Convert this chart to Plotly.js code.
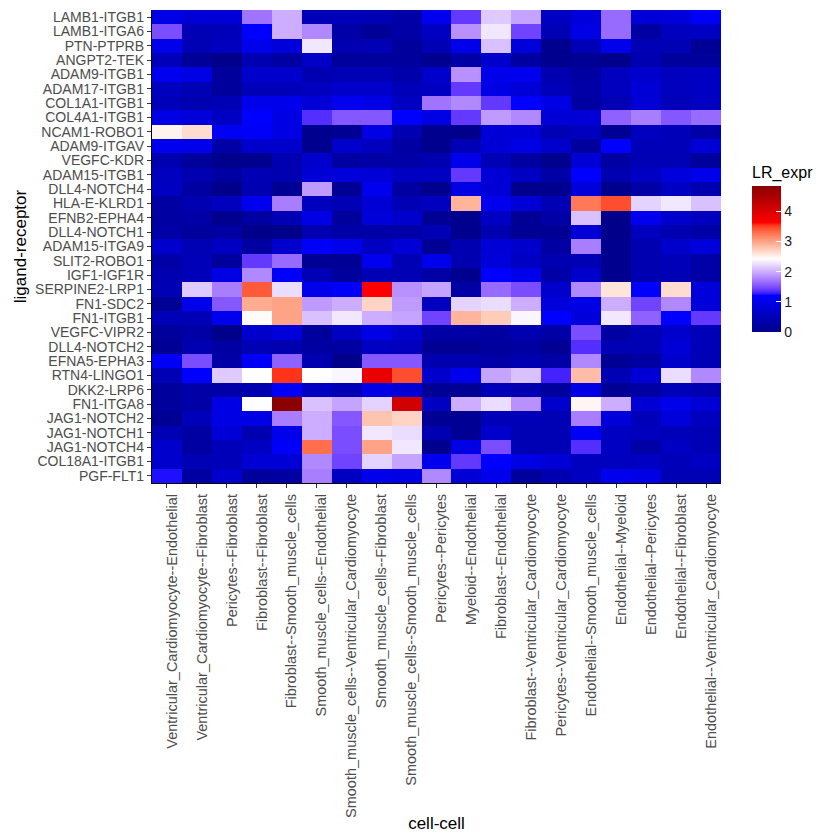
<!DOCTYPE html>
<html>
<head>
<meta charset="utf-8">
<script src="https://cdn.plot.ly/plotly-3.0.1.min.js"></script>
<style>html,body{margin:0;padding:0;background:#fff;}#chart{width:840px;height:840px;}</style>
</head>
<body>
<div id="chart"></div>
<script>
const cellPairs = [
  "Ventricular_Cardiomyocyte--Endothelial",
  "Ventricular_Cardiomyocyte--Fibroblast",
  "Pericytes--Fibroblast",
  "Fibroblast--Fibroblast",
  "Fibroblast--Smooth_muscle_cells",
  "Smooth_muscle_cells--Endothelial",
  "Smooth_muscle_cells--Ventricular_Cardiomyocyte",
  "Smooth_muscle_cells--Fibroblast",
  "Smooth_muscle_cells--Smooth_muscle_cells",
  "Pericytes--Pericytes",
  "Myeloid--Endothelial",
  "Fibroblast--Endothelial",
  "Fibroblast--Ventricular_Cardiomyocyte",
  "Pericytes--Ventricular_Cardiomyocyte",
  "Endothelial--Smooth_muscle_cells",
  "Endothelial--Myeloid",
  "Endothelial--Pericytes",
  "Endothelial--Fibroblast",
  "Endothelial--Ventricular_Cardiomyocyte"
];

const lrPairs = [
  "LAMB1-ITGB1","LAMB1-ITGA6","PTN-PTPRB","ANGPT2-TEK","ADAM9-ITGB1","ADAM17-ITGB1",
  "COL1A1-ITGB1","COL4A1-ITGB1","NCAM1-ROBO1","ADAM9-ITGAV","VEGFC-KDR","ADAM15-ITGB1",
  "DLL4-NOTCH4","HLA-E-KLRD1","EFNB2-EPHA4","DLL4-NOTCH1","ADAM15-ITGA9","SLIT2-ROBO1",
  "IGF1-IGF1R","SERPINE2-LRP1","FN1-SDC2","FN1-ITGB1","VEGFC-VIPR2","DLL4-NOTCH2",
  "EFNA5-EPHA3","RTN4-LINGO1","DKK2-LRP6","FN1-ITGA8","JAG1-NOTCH2","JAG1-NOTCH1",
  "JAG1-NOTCH4","COL18A1-ITGB1","PGF-FLT1"
];

// LR_expr values, one row per ligand-receptor pair (top to bottom), one column per cell pair
const lrExpr = [
  [0.95,0.8,0.8,1.7,2.0,0.5,0.5,0.45,0.3,1.05, 1.4,2.15,1.95,0.6,0.85,1.65,0.8,0.85,1.1],
  [1.5,0.45,0.5,1.2,2.0,1.8,0.3,0.15,0.3,0.6, 1.85,2.3,1.45,0.45,0.95,1.65,0.25,0.55,0.6],
  [1.0,0.45,0.55,1.0,0.85,2.3,0.4,0.45,0.2,0.45, 1.0,2.1,0.85,0.05,0.5,1.0,0.45,0.45,0.1],
  [0.5,0.15,0.0,0.4,0.25,0.65,0.2,0.2,0.2,0.05, 0.3,0.7,0.25,0.05,0.1,0.0,0.4,0.2,0.2],
  [1.05,0.95,0.2,0.7,0.7,0.4,0.45,0.45,0.35,0.7, 1.85,1.0,1.05,0.4,0.25,0.55,0.7,0.55,0.6],
  [0.55,0.45,0.2,0.5,0.5,0.55,0.7,0.7,0.5,0.6, 1.4,0.95,0.8,0.5,0.3,0.55,0.8,0.55,0.6],
  [0.5,0.4,0.45,1.0,1.0,0.8,1.05,0.95,0.6,1.7, 1.8,1.4,1.2,0.95,0.25,0.45,0.8,0.5,0.6],
  [0.95,0.85,0.6,1.2,0.95,1.35,1.55,1.55,1.2,0.95, 1.4,1.9,1.8,0.8,0.8,1.6,1.75,1.55,1.65],
  [2.5,2.65,1.1,1.15,0.95,0.05,0.1,0.95,0.4,0.05, 0.0,0.8,0.8,0.45,0.55,0.1,0.55,0.5,0.3],
  [1.05,1.0,0.3,0.7,0.7,0.05,0.7,0.55,0.25,0.05, 0.45,0.8,0.95,0.7,0.2,1.2,0.5,0.5,0.8],
  [0.4,0.2,0.05,0.05,0.4,0.7,0.25,0.3,0.3,0.4, 1.0,0.45,0.25,0.05,0.8,0.25,0.45,0.45,0.2],
  [0.55,0.4,0.25,0.45,0.4,0.8,0.85,0.8,0.6,0.6, 1.4,0.8,0.6,0.3,1.2,0.4,0.6,0.85,1.0],
  [0.6,0.25,0.0,0.4,0.1,1.9,0.1,1.05,0.25,0.05, 0.95,0.8,0.05,0.05,0.85,0.05,0.3,0.6,0.4],
  [0.25,0.4,0.55,1.05,1.75,0.55,0.45,0.8,0.45,0.55, 2.9,1.05,0.8,0.45,3.25,3.45,2.2,2.3,2.1],
  [0.25,0.3,0.05,0.25,0.45,0.95,0.2,0.85,0.7,0.1, 0.05,0.6,0.1,0.3,2.1,0.0,1.05,0.7,0.55],
  [0.3,0.2,0.25,0.0,0.0,0.4,0.3,0.3,0.3,0.45, 0.05,0.4,0.1,0.1,0.8,0.0,0.55,0.4,0.3],
  [0.7,0.45,0.6,0.25,0.7,1.15,1.0,0.6,0.8,0.1, 0.4,0.8,0.7,0.25,1.75,0.05,0.4,0.7,0.85],
  [0.3,0.5,0.2,1.4,1.65,0.1,0.1,1.05,0.45,1.0, 0.4,0.85,0.6,0.4,0.45,0.05,0.4,0.5,0.3],
  [0.4,0.5,0.95,1.8,1.15,0.45,0.2,0.45,0.45,0.3, 0.05,1.2,1.0,0.3,0.7,0.05,0.4,0.45,0.3],
  [0.45,2.15,1.75,3.4,2.25,1.0,1.15,3.65,1.85,1.95, 0.3,1.65,1.5,0.7,1.8,2.6,1.2,2.65,0.85],
  [0.1,1.0,1.55,2.95,3.0,1.9,2.0,2.7,1.9,0.55, 2.2,2.25,2.0,0.85,0.95,2.0,1.45,1.8,0.85],
  [0.5,0.45,1.05,2.45,3.0,2.1,2.3,2.0,1.95,1.45, 2.9,2.75,2.38,1.2,0.85,2.3,1.6,1.2,1.4],
  [0.2,0.3,0.0,0.7,0.85,0.2,0.6,0.95,0.7,0.3, 0.3,0.25,0.4,0.3,1.5,0.25,0.45,0.7,0.5],
  [0.1,0.4,0.25,0.45,0.4,0.25,0.25,0.6,0.55,0.1, 0.1,0.2,0.25,0.1,1.35,0.45,0.45,0.8,0.5],
  [1.1,1.5,0.3,1.15,1.6,0.4,0.0,1.55,1.55,0.4, 0.4,0.3,0.4,0.3,1.8,0.1,0.25,0.7,0.45],
  [0.45,1.2,2.15,2.43,3.55,2.43,2.38,3.85,3.45,0.7, 1.05,1.95,2.1,1.3,2.85,0.45,0.8,2.25,1.8],
  [0.2,0.3,0.3,0.4,1.15,0.6,0.45,0.95,0.8,0.1, 0.1,0.5,0.4,0.2,0.95,0.1,0.25,0.5,0.4],
  [0.2,0.3,0.95,2.43,4.85,2.1,1.95,2.2,4.1,0.6, 2.0,2.25,1.85,0.7,2.48,2.0,0.8,1.0,0.8],
  [0.1,0.5,0.95,0.95,1.75,2.0,1.55,2.8,2.7,0.1, 0.1,0.5,0.5,0.45,1.75,0.85,0.5,0.85,0.55],
  [0.45,0.25,0.8,0.4,1.0,2.0,1.5,2.3,2.25,0.4, 0.1,0.7,0.45,0.45,1.1,0.6,0.55,0.5,0.45],
  [0.7,0.25,0.5,0.6,1.15,3.3,1.5,3.0,2.3,0.05, 0.95,1.5,0.45,0.45,1.35,0.6,0.3,0.6,0.45],
  [0.7,0.45,0.5,0.8,0.8,1.8,1.45,2.2,1.95,1.05, 1.4,1.2,0.95,0.8,0.55,0.55,0.6,0.5,0.6],
  [1.25,0.25,0.7,0.2,0.25,1.75,0.6,1.0,0.95,1.8, 0.8,1.0,0.2,0.4,0.6,1.05,0.95,0.45,0.45]
];

const legendTicks = [0, 1, 2, 3, 4];
const rampColours = ["#00008B", "#0000FF", "#FFFFFF", "#FF0000", "#8B0000"];

// CIELAB interpolation (like ggplot's gradientn)
function hex2rgb(h){ return [parseInt(h.slice(1,3),16),parseInt(h.slice(3,5),16),parseInt(h.slice(5,7),16)]; }
function lin(c){ c/=255; return c<=0.04045? c/12.92 : Math.pow((c+0.055)/1.055,2.4); }
function delin(c){ const v = c<=0.0031308? 12.92*c : 1.055*Math.pow(c,1/2.4)-0.055; return Math.max(0,Math.min(255,Math.round(v*255))); }
const Wn=[0.95047,1,1.08883];
function f(t){ return t>0.008856? Math.cbrt(t) : 7.787*t+16/116; }
function finv(t){ return t>0.206893? t*t*t : (t-16/116)/7.787; }
function rgb2lab(rgb){
  const [r,g,b]=rgb.map(lin);
  const X=(0.4124*r+0.3576*g+0.1805*b)/Wn[0], Y=(0.2126*r+0.7152*g+0.0722*b)/Wn[1], Z=(0.0193*r+0.1192*g+0.9505*b)/Wn[2];
  const fx=f(X), fy=f(Y), fz=f(Z);
  return [116*fy-16, 500*(fx-fy), 200*(fy-fz)];
}
function lab2rgb(lab){
  const fy=(lab[0]+16)/116, fx=fy+lab[1]/500, fz=fy-lab[2]/200;
  const X=finv(fx)*Wn[0], Y=finv(fy)*Wn[1], Z=finv(fz)*Wn[2];
  const r= 3.2406*X-1.5372*Y-0.4986*Z, g=-0.9689*X+1.8758*Y+0.0415*Z, b=0.0557*X-0.2040*Y+1.0570*Z;
  return [delin(Math.max(0,r)),delin(Math.max(0,g)),delin(Math.max(0,b))];
}
function buildScale(cols, steps){
  const labs = cols.map(c=>rgb2lab(hex2rgb(c)));
  const out=[]; const n=cols.length-1;
  for(let s=0;s<n;s++){
    for(let k=0;k<steps;k++){
      if(s>0 && k===0) continue;
      const t=k/(steps-1);
      const L=labs[s].map((v,i)=>v+(labs[s+1][i]-v)*t);
      const rgb=lab2rgb(L);
      out.push([(s+t)/n, 'rgb('+rgb.join(',')+')']);
    }
  }
  out[out.length-1][0]=1;
  return out;
}
const cs = buildScale(rampColours, 16);

const trace = {
  type: 'heatmap',
  x: cellPairs,
  y: lrPairs,
  z: lrExpr,
  zmin: 0,
  zmax: 4.85,
  colorscale: cs,
  xgap: 0, ygap: 0,
  hoverongaps: false,
  colorbar: {
    title: {text: 'LR_expr', side: 'top', font: {family: 'Liberation Sans, Arial, sans-serif', size: 16, color: '#000'}},
    thickness: 29,
    thicknessmode: 'pixels',
    len: 169,
    lenmode: 'pixels',
    x: 1.0545, xanchor: 'left', xpad: 0,
    y: 0.3196, yanchor: 'bottom', ypad: 0,
    outlinewidth: 0,
    tickvals: legendTicks,
    ticktext: legendTicks.map(String),
    ticks: 'inside',
    ticklen: 5,
    tickcolor: '#ffffff',
    tickwidth: 1,
    tickfont: {family: 'Liberation Sans, Arial, sans-serif', size: 14, color: '#1a1a1a'}
  }
};

const xFont = {family: 'Liberation Sans, Arial, sans-serif', size: 14.5, color: '#4D4D4D'};
const yFont = {family: 'Liberation Sans, Arial, sans-serif', size: 14, color: '#4D4D4D'};
const layout = {
  width: 840, height: 840,
  margin: {l: 152, r: 119, t: 10, b: 357, pad: 0},
  paper_bgcolor: '#fff', plot_bgcolor: '#fff',
  font: {family: 'Liberation Sans, Arial, sans-serif'},
  xaxis: {
    type: 'category',
    tickmode: 'array', tickvals: cellPairs, ticktext: cellPairs,
    tickangle: -90,
    ticklabelshift: 5,
    tickfont: xFont,
    ticks: 'outside', ticklen: 4, tickcolor: '#333333', tickwidth: 1,
    showline: true, linecolor: '#000', linewidth: 1.2,
    showgrid: false, zeroline: false,
    title: {text: 'cell-cell', font: {family: 'Liberation Sans, Arial, sans-serif', size: 17, color: '#000'}, standoff: 0},
    automargin: false
  },
  yaxis: {
    type: 'category',
    autorange: 'reversed',
    tickmode: 'array', tickvals: lrPairs, ticktext: lrPairs,
    tickfont: yFont,
    ticks: 'outside', ticklen: 4, tickcolor: '#333333', tickwidth: 1,
    showline: true, linecolor: '#000', linewidth: 1.2,
    showgrid: false, zeroline: false,
    title: {text: 'ligand-receptor', font: {family: 'Liberation Sans, Arial, sans-serif', size: 17, color: '#000'}, standoff: 4},
    automargin: false
  }
};

Plotly.newPlot('chart', [trace], layout, {displayModeBar: false, staticPlot: true});
</script>
</body>
</html>
